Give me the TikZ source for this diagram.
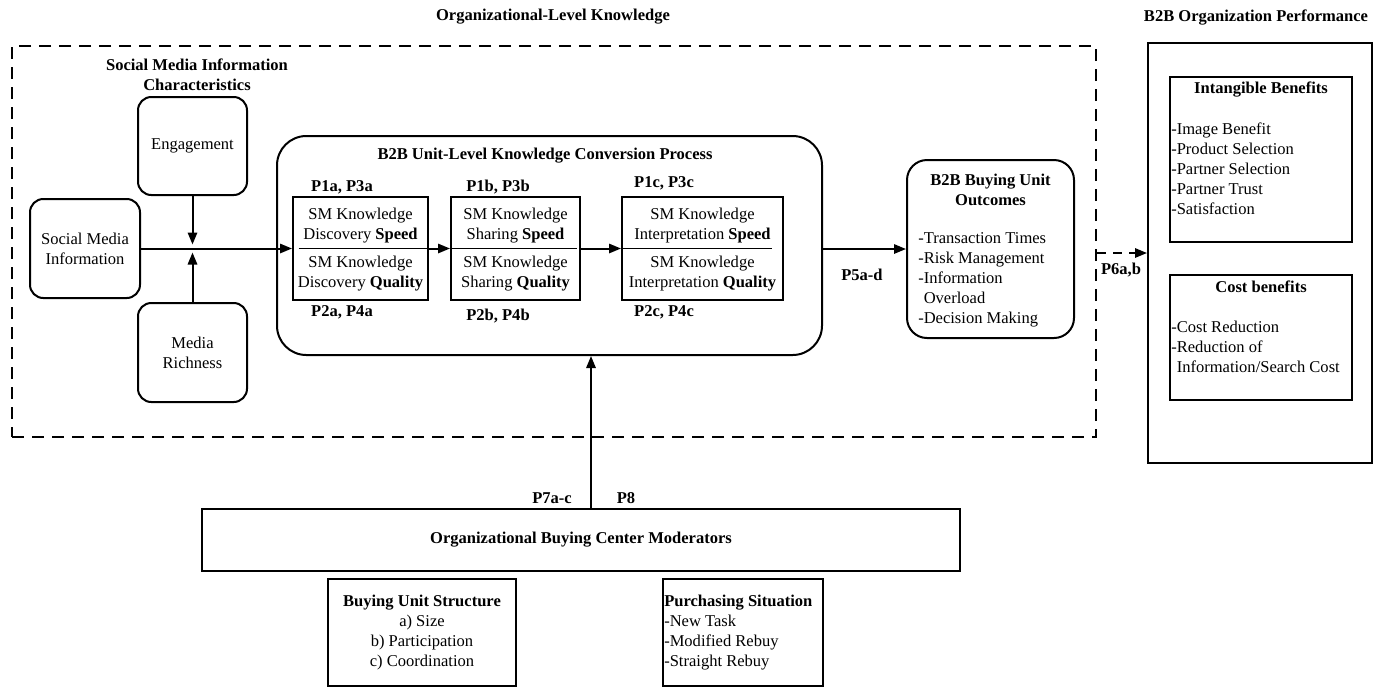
\documentclass[tikz,border=0pt]{standalone}
\usepackage{fontspec}
\setmainfont{Liberation Serif}
\usetikzlibrary{arrows.meta}
\begin{document}
\begin{tikzpicture}[x=0.75pt,y=-0.75pt,
    every node/.style={font=\fontsize{12.4}{15}\selectfont},
    rbox/.style={draw,line width=1.5pt,rounded corners=10pt,align=center,inner sep=0pt},
    sbox/.style={draw,line width=1.5pt,inner sep=0pt},
    tbox/.style={draw,line width=0.8pt,inner sep=0pt},
    ttl/.style={font=\fontsize{12.4}{15}\selectfont\bfseries,align=center,inner sep=0pt},
    lst/.style={align=left,inner sep=0pt,anchor=west},
    arr/.style={line width=1.5pt,-{Triangle[length=9pt,width=7pt]}}]
    \useasboundingbox (0,0) rectangle (1378,687);
    %Titulos
    \node[ttl] (tkn) at (553,17) {Organizational-Level Knowledge};
    \node[ttl] (tpf) at (1256,17) {B2B Organization Performance};
    %Conocimiento
    \node[draw,line width=1.5pt,dash pattern=on 9pt off 6pt,minimum width=813pt,minimum height=293.25pt] (kbound) at (554,241.5) {};
    \node[ttl] (tsm) at (197,75) {Social Media Information\\Characteristics};
    \node[rbox,minimum width=82.5pt,minimum height=74.25pt] (smi) at (85,248.5) {Social Media\\Information};
    \node[rbox,minimum width=81.75pt,minimum height=73.5pt] (eng) at (192.5,146) {Engagement};
    \node[rbox,minimum width=81.75pt,minimum height=74.25pt] (mr) at (192.5,352.5) {Media\\Richness};
    \coordinate (jn) at (192.5,248.5);
    %Proceso
    \node[rbox,rounded corners=22pt,minimum width=408.75pt,minimum height=164.25pt] (conv) at (549.5,245.5) {};
    \node[ttl] (tconv) at (545,156) {B2B Unit-Level Knowledge Conversion Process};
    \node[sbox,minimum width=101.25pt,minimum height=77pt] (b1) at (360.5,248.5) {};
    \node[sbox,minimum width=96.75pt,minimum height=77pt] (b2) at (515.5,248.5) {};
    \node[sbox,minimum width=120.75pt,minimum height=77pt] (b3) at (702.5,248.5) {};
    \node[align=center,inner sep=0pt] (b1s) at (360.5,226) {SM Knowledge\\Discovery \textbf{Speed}};
    \node[align=center,inner sep=0pt] (b1q) at (360.5,274) {SM Knowledge\\Discovery \textbf{Quality}};
    \node[align=center,inner sep=0pt] (b2s) at (515.5,226) {SM Knowledge\\Sharing \textbf{Speed}};
    \node[align=center,inner sep=0pt] (b2q) at (515.5,274) {SM Knowledge\\Sharing \textbf{Quality}};
    \node[align=center,inner sep=0pt] (b3s) at (702.5,226) {SM Knowledge\\Interpretation \textbf{Speed}};
    \node[align=center,inner sep=0pt] (b3q) at (702.5,274) {SM Knowledge\\Interpretation \textbf{Quality}};
    \node[ttl] (p1a) at (342,187) {P1a, P3a};
    \node[ttl] (p2a) at (342,312) {P2a, P4a};
    \node[ttl] (p1b) at (498,187) {P1b, P3b};
    \node[ttl] (p2b) at (498,316) {P2b, P4b};
    \node[ttl] (p1c) at (664,183) {P1c, P3c};
    \node[ttl] (p2c) at (664,312) {P2c, P4c};
    %Resultados
    \node[rbox,rounded corners=15pt,minimum width=125.25pt,minimum height=133.5pt] (out) at (990.5,249) {};
    \node[ttl] (tout) at (990.5,190) {B2B Buying Unit\\Outcomes};
    \node[lst] (lout) at (918,280) {-Transaction Times\\-Risk Management\\-Information\\\phantom{-}Overload\\-Decision Making};
    \node[ttl] (p5) at (862,275) {P5a-d};
    %Desempeno
    \node[sbox,minimum width=168pt,minimum height=315pt] (perf) at (1260,253) {};
    \node[tbox,minimum width=136.5pt,minimum height=123.75pt] (intg) at (1261,159.5) {};
    \node[ttl] (tintg) at (1261,89) {Intangible Benefits};
    \node[lst] (lintg) at (1171,169) {-Image Benefit\\-Product Selection\\-Partner Selection\\-Partner Trust\\-Satisfaction};
    \node[tbox,minimum width=136.5pt,minimum height=93.75pt] (cost) at (1261,337.5) {};
    \node[ttl] (tcost) at (1261,287) {Cost benefits};
    \node[lst] (lcost) at (1171,347) {-Cost Reduction\\-Reduction of\\\phantom{-}Information/Search Cost};
    \node[ttl] (p6) at (1121,270) {P6a,b};
    %Moderadores
    \node[tbox,minimum width=568.5pt,minimum height=46.5pt] (mod) at (581,540) {\textbf{Organizational Buying Center Moderators}};
    \node[tbox,minimum width=141pt,minimum height=80.25pt] (bus) at (422,632.5) {};
    \node[align=center,inner sep=0pt] (tbus) at (422,633) {\textbf{Buying Unit Structure}\\a) Size\\b) Participation\\c) Coordination};
    \node[tbox,minimum width=120pt,minimum height=80.25pt] (ps) at (743,632.5) {};
    \node[lst] (tps) at (664,633) {\textbf{Purchasing Situation}\\-New Task\\-Modified Rebuy\\-Straight Rebuy};
    \node[ttl] (p7) at (552,498) {P7a-c};
    \node[ttl] (p8) at (626,498) {P8};
    \coordinate (mtop) at (591,509);
    %Flechas
    \draw[arr,shorten >=3pt] (eng) -- (jn);
    \draw[arr,shorten >=3pt] (mr) -- (jn);
    \draw[arr] (smi.east |- jn) -- (b1.west |- jn);
    \draw[arr] (b1) -- (b2);
    \draw[arr] (b2) -- (b3);
    \draw[line width=0.8pt] ([xshift=5pt]b1.west) -- (b1.east);
    \draw[line width=0.8pt] (b2.west) -- ([xshift=-3pt]b2.east);
    \draw[line width=0.8pt] (b3.west) -- ([xshift=-9pt]b3.east);
    \draw[arr] (out.west -| conv.east) -- (out.west);
    \draw[arr,dash pattern=on 7pt off 5pt] (perf.west -| kbound.east) -- (perf.west);
    \draw[arr] (mtop) -- (mtop |- conv.south);
\end{tikzpicture}
\end{document}
